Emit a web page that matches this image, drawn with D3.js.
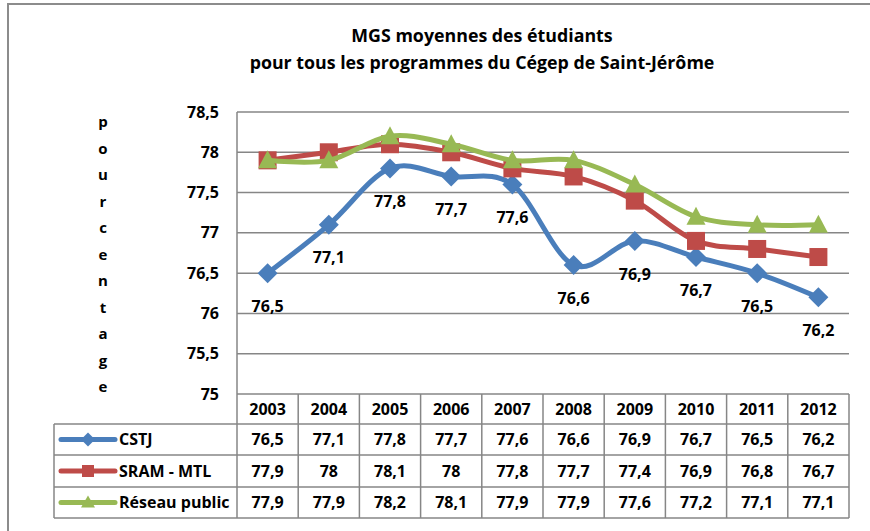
<!DOCTYPE html>
<html><head><meta charset="utf-8">
<script src="https://cdn.jsdelivr.net/npm/d3@7"></script>
<style>body{margin:0;background:#fff}svg{display:block}text{font-family:"Open Sans",sans-serif;font-weight:700;fill:#000}</style>
</head><body><div id="chart"></div>
<script>
const years = ["2003","2004","2005","2006","2007","2008","2009","2010","2011","2012"];
const cstj = [76.5,77.1,77.8,77.7,77.6,76.6,76.9,76.7,76.5,76.2];
const sram = [77.9,78,78.1,78,77.8,77.7,77.4,76.9,76.8,76.7];
const reseau = [77.9,77.9,78.2,78.1,77.9,77.9,77.6,77.2,77.1,77.1];
const seriesNames = ["CSTJ","SRAM - MTL","Réseau public"];
const yTicks = [75,75.5,76,76.5,77,77.5,78,78.5];
const titleLines = ["MGS moyennes des étudiants","pour tous les programmes du Cégep de Saint-Jérôme"];
const yTitle = "pourcentage";

const W=870,H=531;
const colors=["#4A7EBB","#BE4B48","#98B954"];
const grid="#868686";
const fs="16px";
const fmt=v=>String(v).replace(".",",");

const svg=d3.select("#chart").append("svg").attr("width",W).attr("height",H);
svg.append("path").attr("d","M8,540V4H880").attr("fill","none").attr("stroke","#8c8c8c").attr("stroke-width",2);

const x=d3.scaleBand().domain(years).range([237,849]);
const xc=d=>x(d)+x.bandwidth()/2;
const y=d3.scaleLinear().domain([75,78.5]).range([394,112]);

// title
svg.selectAll(".title").data(titleLines).join("text")
 .attr("x",482).attr("y",(d,i)=>42+i*26.5).attr("text-anchor","middle")
 .style("font-size","17.8px").text(d=>d);

// gridlines
svg.append("g").selectAll("line").data(yTicks.slice(1)).join("line")
 .attr("x1",237).attr("x2",849).attr("y1",d=>y(d)).attr("y2",d=>y(d))
 .attr("stroke",grid).attr("stroke-width",1.5);
svg.append("line").attr("x1",237).attr("x2",237).attr("y1",y(78.5)).attr("y2",y(75)).attr("stroke",grid).attr("stroke-width",1.5);

// y axis labels
const yAxis=d3.axisLeft(y).tickValues(yTicks).tickSize(0).tickPadding(0).tickFormat(fmt);
const ya=svg.append("g").attr("transform","translate(219,0)").call(yAxis);
ya.select(".domain").remove();
ya.selectAll("text").style("font-size",fs).style("font-family","Open Sans").style("font-weight","700").attr("dy","0.32em");

// y title stacked letters
svg.selectAll(".yt").data(yTitle.split("")).join("text")
 .attr("x",103).attr("y",(d,i)=>122+i*26.5).attr("dy","0.35em").attr("text-anchor","middle")
 .style("font-size","15px").text(d=>d);

// table
const rows=[394,424,455,487,518];
const tg=svg.append("g").attr("stroke",grid).attr("stroke-width",1.5);
tg.append("line").attr("x1",237).attr("x2",849).attr("y1",rows[0]).attr("y2",rows[0]);
rows.slice(1).forEach(r=>tg.append("line").attr("x1",54).attr("x2",849).attr("y1",r).attr("y2",r));
tg.append("line").attr("x1",54).attr("x2",54).attr("y1",rows[1]).attr("y2",rows[4]);
years.forEach(yr=>tg.append("line").attr("x1",x(yr)).attr("x2",x(yr)).attr("y1",rows[0]).attr("y2",rows[4]));
tg.append("line").attr("x1",849).attr("x2",849).attr("y1",rows[0]).attr("y2",rows[4]);

svg.selectAll(".yr").data(years).join("text").attr("x",d=>xc(d)).attr("y",(rows[0]+rows[1])/2).attr("dy","0.35em")
 .attr("text-anchor","middle").style("font-size",fs).text(d=>d);
const allSeries=[cstj,sram,reseau];
allSeries.forEach((s,si)=>{
  svg.append("g").selectAll("text").data(s).join("text")
   .attr("x",(d,i)=>xc(years[i])).attr("y",(rows[si+1]+rows[si+2])/2).attr("dy","0.35em")
   .attr("text-anchor","middle").style("font-size",fs).text(d=>fmt(d));
});

// markers
function marker(g,si,cx,cy){
  if(si===0) g.append("path").attr("d",`M${cx},${cy-10}L${cx+10},${cy}L${cx},${cy+10}L${cx-10},${cy}Z`).attr("fill",colors[0]);
  else if(si===1) g.append("rect").attr("x",cx-9).attr("y",cy-9).attr("width",18).attr("height",18).attr("fill",colors[1]);
  else g.append("path").attr("d",`M${cx},${cy-10}L${cx+9.5},${cy+8}L${cx-9.5},${cy+8}Z`).attr("fill",colors[2]);
}

// legend cells
seriesNames.forEach((n,si)=>{
  const cy=(rows[si+1]+rows[si+2])/2;
  svg.append("line").attr("x1",61).attr("x2",115).attr("y1",cy).attr("y2",cy).attr("stroke",colors[si]).attr("stroke-width",5).attr("stroke-linecap","round");
  const g=svg.append("g");
  if(si===0) g.append("path").attr("d",`M88,${cy-7}L95,${cy}L88,${cy+7}L81,${cy}Z`).attr("fill",colors[0]);
  else if(si===1) g.append("rect").attr("x",82).attr("y",cy-6).attr("width",12).attr("height",12).attr("fill",colors[1]);
  else g.append("path").attr("d",`M88,${cy-7}L95,${cy+5}L81,${cy+5}Z`).attr("fill",colors[2]);
  svg.append("text").attr("x",119).attr("y",cy).attr("dy","0.35em").style("font-size",fs).text(n);
});

// lines
const line=d3.line().x((d,i)=>xc(years[i])).y(d=>y(d)).curve(d3.curveCardinal.tension(0));
allSeries.forEach((s,si)=>{
  const g=svg.append("g");
  g.append("path").attr("d",line(s)).attr("fill","none").attr("stroke",colors[si]).attr("stroke-width",5).attr("stroke-linejoin","round");
  s.forEach((v,i)=>marker(g,si,xc(years[i]),y(v)));
});

// data labels CSTJ
svg.append("g").selectAll("text").data(cstj).join("text")
 .attr("x",(d,i)=>xc(years[i])).attr("y",d=>y(d)+33).attr("dy","0.35em")
 .attr("text-anchor","middle").style("font-size",fs).text(d=>fmt(d));
</script></body></html>
